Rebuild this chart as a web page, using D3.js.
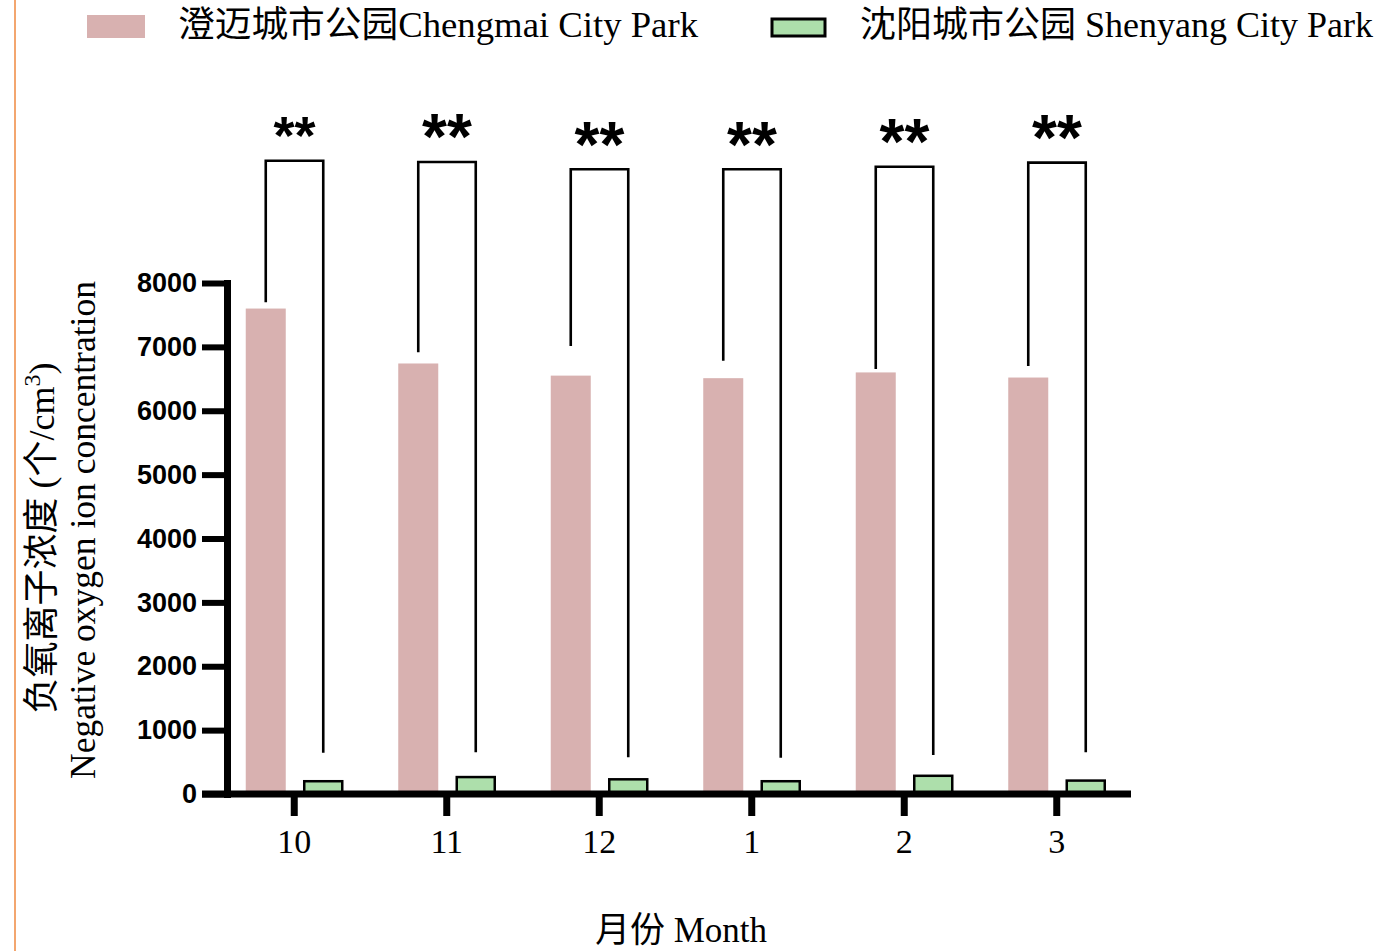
<!DOCTYPE html>
<html>
<head>
<meta charset="utf-8">
<script src="https://cdn.jsdelivr.net/npm/d3@7/dist/d3.min.js"></script>
<style>
  body { margin: 0; background: #fff; }
  svg { display: block; }
</style>
</head>
<body>
<svg id="chart" width="1398" height="951"></svg>
<script>
// Monthly negative oxygen ion concentration (ions/cm³)
const months = ["10", "11", "12", "1", "2", "3"];
const chengmai = [7600, 6740, 6550, 6510, 6600, 6520];
const shenyang = [200, 265, 230, 200, 285, 210];
const yTicks = [0, 1000, 2000, 3000, 4000, 5000, 6000, 7000, 8000];
const seriesNames = ["澄迈城市公园Chengmai City Park", "沈阳城市公园 Shenyang City Park"];

// Significance brackets (in concentration units) and their labels
const sigLabels = ["**", "**", "**", "**", "**", "**"];
const bracketTop = [9915, 9894, 9780, 9780, 9821, 9884];
const bracketLeftEnd = [7698, 6915, 7014, 6784, 6654, 6701];
const bracketRightEnd = [647, 653, 575, 568, 611, 653];

// Styling
const colors = ["#d8b1b0", "#addfab"];
const starFontSizes = [54, 64, 64, 64, 64, 64];
const serif = "'Times New Roman', 'Liberation Serif', 'Noto Sans CJK SC', serif";
const sans = "Arial, 'Liberation Sans', sans-serif";

const svg = d3.select("#chart");

const y = d3.scaleLinear().domain([0, 8000]).range([794, 283]);
const x = d3.scaleBand().domain(months).range([218, 1133]);
const sub = d3.scaleBand().domain([0, 1]).range([27.75, 125.25]).paddingInner(0.3043);
const bw = sub.bandwidth();

// left page rule
svg.append("line")
  .attr("x1", 15).attr("x2", 15).attr("y1", 0).attr("y2", 951)
  .attr("stroke", "#f3a66f").attr("stroke-width", 2);

// bars
const rows = months.map((m, i) => ({ m, i, a: chengmai[i], b: shenyang[i] }));

svg.append("g").selectAll("rect").data(rows).join("rect")
  .attr("x", d => x(d.m) + sub(0))
  .attr("y", d => y(d.a))
  .attr("width", bw)
  .attr("height", d => y(0) - y(d.a))
  .attr("fill", colors[0]);

svg.append("g").selectAll("rect").data(rows).join("rect")
  .attr("x", d => x(d.m) + sub(1) + 1)
  .attr("y", d => y(d.b))
  .attr("width", bw - 2)
  .attr("height", d => y(0) - y(d.b))
  .attr("fill", colors[1])
  .attr("stroke", "#000")
  .attr("stroke-width", 2.5);

// significance brackets
const br = svg.append("g");
rows.forEach(d => {
  const xl = x(d.m) + sub(0) + bw / 2;
  const xr = x(d.m) + sub(1) + bw / 2;
  const yt = y(bracketTop[d.i]);
  br.append("path")
    .attr("d", `M${xl},${y(bracketLeftEnd[d.i])}V${yt}H${xr}V${y(bracketRightEnd[d.i])}`)
    .attr("fill", "none")
    .attr("stroke", "#000")
    .attr("stroke-width", 2.6);
  const fs = starFontSizes[d.i];
  br.append("text")
    .attr("x", (xl + xr) / 2)
    .attr("y", yt - 32 + 0.46 * fs)
    .attr("text-anchor", "middle")
    .attr("font-family", sans)
    .attr("font-weight", "bold")
    .attr("font-size", fs)
    .text(sigLabels[d.i]);
});

// y axis
const yAxis = svg.append("g")
  .attr("transform", "translate(227,0)")
  .call(d3.axisLeft(y).tickValues(yTicks).tickFormat(d3.format("d"))
    .tickSize(25).tickSizeOuter(0).tickPadding(5));
yAxis.select(".domain").attr("stroke-width", 7).attr("stroke-linecap", "square");
yAxis.selectAll(".tick line").attr("stroke-width", 6);
yAxis.selectAll(".tick text")
  .attr("font-family", sans)
  .attr("font-weight", "bold")
  .attr("font-size", 27)
  .attr("fill", "#000");

// x axis
const xAxis = svg.append("g")
  .attr("transform", "translate(0,794)")
  .call(d3.axisBottom(x).tickSize(22).tickSizeOuter(0));
xAxis.select(".domain").remove();
xAxis.append("line")
  .attr("x1", 227 - 25).attr("x2", x.range()[1] - 2)
  .attr("y1", 0).attr("y2", 0)
  .attr("stroke", "#000").attr("stroke-width", 7);
xAxis.selectAll(".tick line").attr("stroke-width", 7);
xAxis.selectAll(".tick text")
  .attr("y", 59).attr("dy", null)
  .attr("font-family", serif)
  .attr("font-size", 34)
  .attr("fill", "#000");

// axis titles
svg.append("text")
  .attr("x", 681).attr("y", 942)
  .attr("text-anchor", "middle")
  .attr("font-family", serif)
  .attr("font-size", 35)
  .text("月份 Month");

const yt1 = svg.append("text")
  .attr("transform", "translate(54,538) rotate(-90)")
  .attr("text-anchor", "middle")
  .attr("font-family", serif)
  .attr("font-size", 36);
yt1.append("tspan").text("负氧离子浓度 (个/cm");
yt1.append("tspan").attr("dy", -14).attr("font-size", 24).text("3");
yt1.append("tspan").attr("dy", 14).text(")");

svg.append("text")
  .attr("transform", "translate(95,530) rotate(-90)")
  .attr("text-anchor", "middle")
  .attr("font-family", serif)
  .attr("font-size", 35.5)
  .text("Negative oxygen ion concentration");

// legend
const legend = svg.append("g");
legend.append("rect")
  .attr("x", 87).attr("y", 15).attr("width", 58).attr("height", 23)
  .attr("fill", colors[0]);
legend.append("text")
  .attr("x", 178).attr("y", 37)
  .attr("font-family", serif).attr("font-size", 36)
  .attr("textLength", 520).attr("lengthAdjust", "spacingAndGlyphs")
  .text(seriesNames[0]);
legend.append("rect")
  .attr("x", 772).attr("y", 19).attr("width", 53).attr("height", 17)
  .attr("fill", colors[1]).attr("stroke", "#000").attr("stroke-width", 3);
legend.append("text")
  .attr("x", 860).attr("y", 37)
  .attr("font-family", serif).attr("font-size", 36)
  .text(seriesNames[1]);
</script>
</body>
</html>
